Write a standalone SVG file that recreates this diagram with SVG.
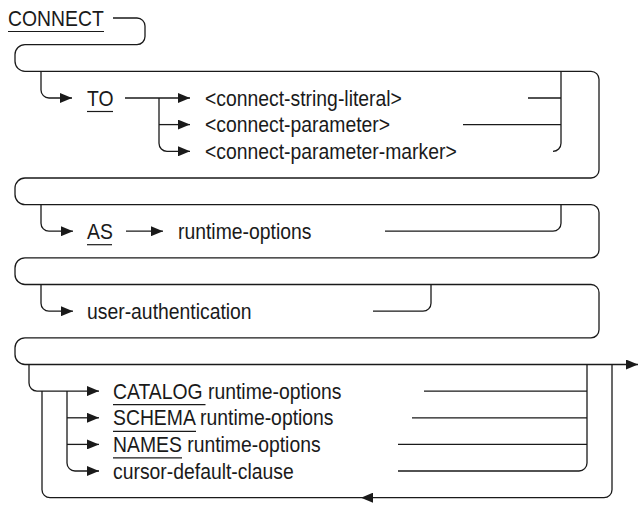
<svg xmlns="http://www.w3.org/2000/svg" width="639" height="506" viewBox="0 0 639 506">
<defs>
<style>
.t{font-family:"Liberation Sans",Arial,Helvetica,sans-serif;font-size:22px;fill:#1a1a1a}
.c{fill:none;stroke:#1a1a1a;stroke-width:1.3}
.u{stroke:#1a1a1a;stroke-width:1.2}
</style>
<marker id="a" viewBox="0 0 12 10" refX="12" refY="5" markerWidth="12" markerHeight="10" markerUnits="userSpaceOnUse" orient="auto">
<path d="M0,0 L12,5 L0,10 z" fill="#1a1a1a"/>
</marker>
</defs>
<rect width="639" height="506" fill="#fff"/>
<g id="connectors">
<path class="c" marker-end="url(#a)" d="M113 18 H137 a8 8 0 0 1 8 8 V36.6 a8 8 0 0 1 -8 8 H25 a10 10 0 0 0 -10 10 V61.3 a10 10 0 0 0 10 10 H591 a8 8 0 0 1 8 8 V170 a8 8 0 0 1 -8 8 H25 a10 10 0 0 0 -10 10 V194.6 a10 10 0 0 0 10 10 H591 a8 8 0 0 1 8 8 V249.9 a8 8 0 0 1 -8 8 H25 a10 10 0 0 0 -10 10 V274.5 a10 10 0 0 0 10 10 H591 a8 8 0 0 1 8 8 V329.8 a8 8 0 0 1 -8 8 H25 a10 10 0 0 0 -10 10 V354.5 a10 10 0 0 0 10 10 H638"/>
<path class="c" marker-end="url(#a)" d="M41 71.3 V90 a8 8 0 0 0 8 8 H72"/>
<path class="c" marker-end="url(#a)" d="M125 98 H190"/>
<path class="c" marker-end="url(#a)" d="M159 98 V143.3 a8 8 0 0 0 8 8 H190"/>
<path class="c" marker-end="url(#a)" d="M159 124.6 H190"/>
<path class="c" d="M528 98 H561 M463 124.6 H561 M561 71.3 V143.3 a8 8 0 0 1 -8 8"/>
<path class="c" marker-end="url(#a)" d="M41 204.6 V223.2 a8 8 0 0 0 8 8 H73"/>
<path class="c" marker-end="url(#a)" d="M126 231.2 H163"/>
<path class="c" d="M385 231.2 H553 a8 8 0 0 0 8 -8 V204.6"/>
<path class="c" marker-end="url(#a)" d="M41 284.5 V303.2 a8 8 0 0 0 8 8 H73"/>
<path class="c" d="M373 311.2 H423 a8 8 0 0 0 8 -8 V284.5"/>
<path class="c" marker-end="url(#a)" d="M29 364.5 V383.1 a8 8 0 0 0 8 8 H99"/>
<path class="c" marker-end="url(#a)" d="M67 391.1 V463 a8 8 0 0 0 8 8 H99"/>
<path class="c" marker-end="url(#a)" d="M67 417.8 H99"/>
<path class="c" marker-end="url(#a)" d="M67 444.4 H99"/>
<path class="c" d="M424 391.1 H587 M412 417.8 H587 M398 444.4 H587 M398 471 H579 a8 8 0 0 0 8 -8 V364.5"/>
<path class="c" marker-end="url(#a)" d="M612 364.5 V489.7 a8 8 0 0 1 -8 8 H361"/>
<path class="c" d="M361 497.7 H50 a8 8 0 0 1 -8 -8 V391.1"/>
</g>
<g id="n-connect"><text class="t" transform="translate(8 25.5) scale(0.88 1)">CONNECT</text><line class="u" x1="8" y1="31.5" x2="104" y2="31.5"/></g>
<g id="n-to"><text class="t" transform="translate(87 105.5) scale(0.88 1)">TO</text><line class="u" x1="87" y1="111.5" x2="113" y2="111.5"/></g>
<g id="n-csl"><text class="t" transform="translate(205 105.5) scale(0.88 1)">&lt;connect-string-literal&gt;</text></g>
<g id="n-cp"><text class="t" transform="translate(205 132.1) scale(0.88 1)">&lt;connect-parameter&gt;</text></g>
<g id="n-cpm"><text class="t" transform="translate(205 158.8) scale(0.88 1)">&lt;connect-parameter-marker&gt;</text></g>
<g id="n-as"><text class="t" transform="translate(87 238.7) scale(0.88 1)">AS</text><line class="u" x1="87" y1="244.7" x2="112" y2="244.7"/></g>
<g id="n-as-ro"><text class="t" transform="translate(178 238.7) scale(0.88 1)">runtime-options</text></g>
<g id="n-ua"><text class="t" transform="translate(87 318.7) scale(0.88 1)">user-authentication</text></g>
<g id="n-catalog"><text class="t" transform="translate(113 398.6) scale(0.88 1)">CATALOG runtime-options</text><line class="u" x1="113" y1="404.6" x2="205.5" y2="404.6"/></g>
<g id="n-schema"><text class="t" transform="translate(113 425.3) scale(0.88 1)">SCHEMA runtime-options</text><line class="u" x1="113" y1="431.3" x2="196" y2="431.3"/></g>
<g id="n-names"><text class="t" transform="translate(113 451.9) scale(0.88 1)">NAMES runtime-options</text><line class="u" x1="113" y1="457.9" x2="182" y2="457.9"/></g>
<g id="n-cursor"><text class="t" transform="translate(113 478.5) scale(0.88 1)">cursor-default-clause</text></g>
</svg>
